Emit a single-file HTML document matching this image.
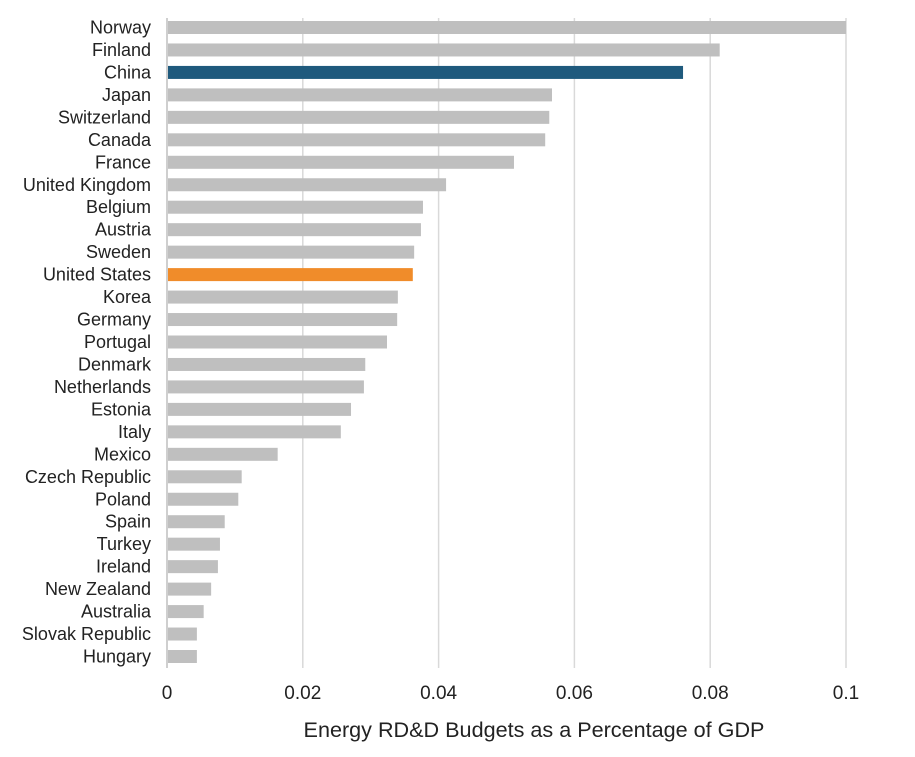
<!DOCTYPE html>
<html><head><meta charset="utf-8">
<style>
html,body{margin:0;padding:0;background:#fff;}
svg{display:block;font-family:"Liberation Sans",sans-serif;}
</style></head>
<body>
<svg id="chart" width="915" height="757"></svg>
<script>
const categories = ["Norway","Finland","China","Japan","Switzerland","Canada","France","United Kingdom","Belgium","Austria","Sweden","United States","Korea","Germany","Portugal","Denmark","Netherlands","Estonia","Italy","Mexico","Czech Republic","Poland","Spain","Turkey","Ireland","New Zealand","Australia","Slovak Republic","Hungary"];
const values = [0.1,0.0814,0.076,0.0567,0.0563,0.0557,0.0511,0.0411,0.0377,0.0374,0.0364,0.0362,0.034,0.0339,0.0324,0.0292,0.029,0.0271,0.0256,0.0163,0.011,0.0105,0.0085,0.0078,0.0075,0.0065,0.0054,0.0044,0.0044];
const highlights = {"China":"#1f5a7d","United States":"#f08c2a"};
const tickValues = [0,0.02,0.04,0.06,0.08,0.1];
const tickLabels = ["0","0.02","0.04","0.06","0.08","0.1"];

const NS="http://www.w3.org/2000/svg";
const svg=document.getElementById('chart');
const x0=167,x1=846,xmax=0.1;
const xs=v=>x0+(v/xmax)*(x1-x0);
const yTop=27.5,step=(656-27)/28;
const ys=i=>yTop+i*step;
function mk(t,a){const e=document.createElementNS(NS,t);for(const k in a)e.setAttribute(k,a[k]);svg.appendChild(e);return e;}

tickValues.forEach((v,i)=>{
  if(i>0){const g=mk('line',{x1:xs(v),x2:xs(v),y1:18,y2:668,stroke:'#d9d9d9','stroke-width':1.5});
  
  }
  const t=mk('text',{x:xs(v),y:699,'text-anchor':'middle','font-size':19,fill:'#222'});
  t.textContent=tickLabels[i];
  
  
});
const ax=mk('line',{x1:x0,x2:x0,y1:18,y2:668,stroke:'#bfbfbf','stroke-width':1.5});



categories.forEach((c,i)=>{
  const y=ys(i);
  const r=mk('rect',{x:x0+1,y:y-6.5,width:xs(values[i])-x0-1,height:13,fill:highlights[c]||'#bfbfbf'});
  
  
  const t=mk('text',{x:151,y:y+6,'text-anchor':'end','font-size':18,fill:'#222'});
  t.textContent=c;
  
  
});
const title=mk('text',{x:534,y:737,'text-anchor':'middle','font-size':21.6,fill:'#222'});
title.textContent="Energy RD&D Budgets as a Percentage of GDP";


</script>
</body></html>
